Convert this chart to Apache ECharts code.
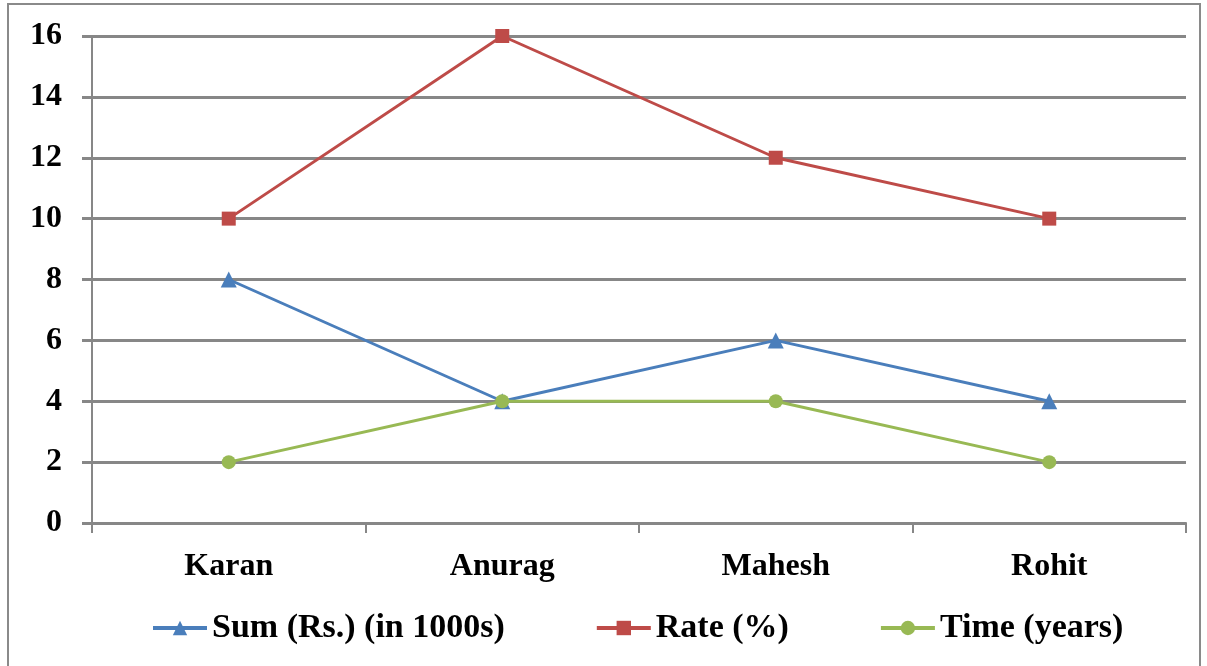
<!DOCTYPE html>
<html>
<head>
<meta charset="utf-8">
<script src="https://cdn.jsdelivr.net/npm/echarts@6/dist/echarts.min.js"></script>
<style>
  html, body { margin: 0; padding: 0; background: #fff; }
  #chart { width: 1207px; height: 666px; }
</style>
</head>
<body>
<div id="chart"></div>
<script>
// categories and series values
const names = ['Karan', 'Anurag', 'Mahesh', 'Rohit'];
const sumValues = [8, 4, 6, 4];
const rateValues = [10, 16, 12, 10];
const timeValues = [2, 4, 4, 2];
const seriesNames = ['Sum (Rs.) (in 1000s)', 'Rate (%)', 'Time (years)'];

const FONT = '"Liberation Serif", "DejaVu Serif", serif';
const GRID_COLOR = '#878787';

const chart = echarts.init(document.getElementById('chart'));

function lineSeries(name, data, color, symbol, size) {
  return {
    name: name,
    type: 'line',
    data: data,
    symbol: symbol,
    symbolSize: size,
    itemStyle: { color: color },
    lineStyle: { color: color, width: 3 },
    emphasis: { disabled: true }
  };
}

chart.setOption({
  animation: false,
  graphic: [{
    type: 'rect',
    shape: { x: 8, y: 4, width: 1192, height: 700 },
    style: { fill: 'none', stroke: '#8a8a8a', lineWidth: 2 },
    silent: true
  }],
  grid: { left: 92, right: 21, top: 36, bottom: 143 },
  legend: {
    data: seriesNames,
    top: 606,
    left: 146,
    itemWidth: 54,
    itemHeight: 18,
    itemGap: 90,
    lineStyle: { width: 4 },
    textStyle: { fontFamily: FONT, fontWeight: 'bold', fontSize: 34, color: '#000' }
  },
  xAxis: {
    type: 'category',
    data: names,
    boundaryGap: true,
    axisLine: { show: true, lineStyle: { color: GRID_COLOR, width: 2 } },
    axisTick: { show: true, length: 10, lineStyle: { color: GRID_COLOR, width: 2 } },
    axisLabel: { fontFamily: FONT, fontWeight: 'bold', fontSize: 32, color: '#000', margin: 28 },
    splitLine: { show: false }
  },
  yAxis: {
    type: 'value',
    min: 0,
    max: 16,
    interval: 2,
    axisLine: { show: true, lineStyle: { color: GRID_COLOR, width: 2 } },
    axisTick: { show: true, length: 10, lineStyle: { color: GRID_COLOR, width: 3 } },
    axisLabel: { fontFamily: FONT, fontWeight: 'bold', fontSize: 32, color: '#000', margin: 30 },
    splitLine: { show: true, lineStyle: { color: GRID_COLOR, width: 3 } }
  },
  series: [
    lineSeries(seriesNames[0], sumValues, '#4A7EBB', 'triangle', 16),
    lineSeries(seriesNames[1], rateValues, '#BE4B48', 'rect', 14),
    lineSeries(seriesNames[2], timeValues, '#98B954', 'circle', 14)
  ]
});
</script>
</body>
</html>
